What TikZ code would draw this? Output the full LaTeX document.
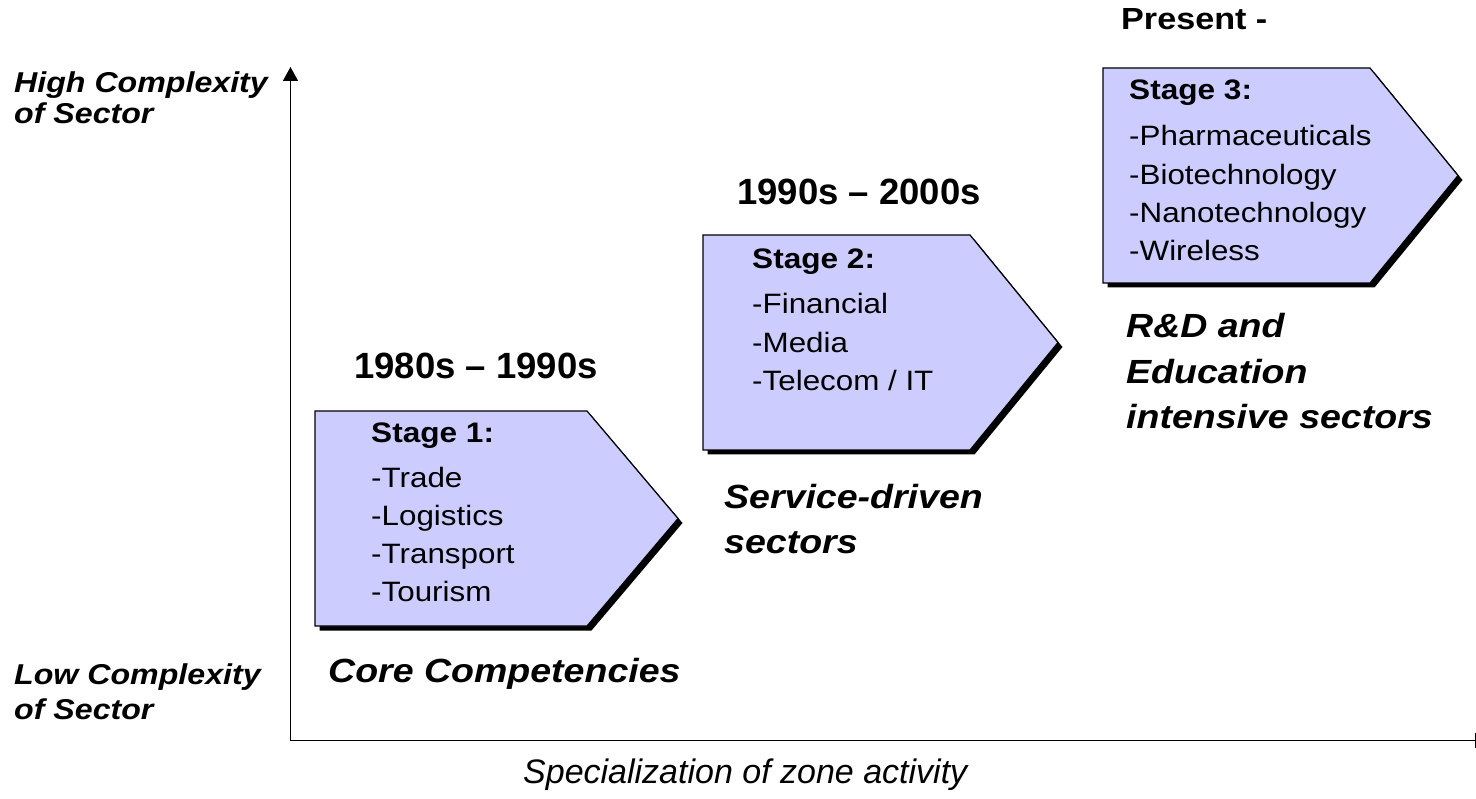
\documentclass[tikz,border=0pt]{standalone}
\usepackage{fontspec}
\setmainfont{Liberation Sans}
\newfontfamily\wf{Liberation Sans}[FakeStretch=1.12]
\usetikzlibrary{arrows.meta}
\definecolor{stagefill}{RGB}{204,204,255}
\tikzset{
  axisline/.style={line width=1.6pt, draw=black},
  stageshape/.style={fill=stagefill, draw=black, line width=1.2pt, line join=miter},
  stageshadow/.style={fill=black},
  itemtxt/.style={inner sep=0pt, anchor=base west, font=\wf\fontsize{28}{33}\selectfont},
  stagetxt/.style={inner sep=0pt, anchor=base west, font=\wf\bfseries\fontsize{28.2}{33}\selectfont},
  period/.style={inner sep=0pt, anchor=base west, font=\bfseries\fontsize{36.5}{44}\selectfont},
  periodw/.style={inner sep=0pt, anchor=base west, font=\wf\bfseries\fontsize{30.5}{36}\selectfont},
  sectorlbl/.style={inner sep=0pt, anchor=base west, font=\wf\bfseries\itshape\fontsize{33.5}{39}\selectfont},
  axislbl/.style={inner sep=0pt, anchor=base west, font=\wf\bfseries\itshape\fontsize{28.7}{33}\selectfont},
  xlbl/.style={inner sep=0pt, anchor=base west, font=\itshape\fontsize{34}{40}\selectfont},
}
% pentagon arrow with drop shadow: name, left, top, body right, tip x, bottom
\newcommand\stagepoly[6]{%
  \fill[stageshadow] ({#2+4.5},{#3+4.5}) -- ({#4+4.5},{#3+4.5}) -- ({#5+4.5},{(#3+#6)/2+4.5})
     -- ({#4+4.5},{#6+4.5}) -- ({#2+4.5},{#6+4.5}) -- cycle;
  \coordinate (#1-nw) at (#2,#3);
  \coordinate (#1-ne) at (#4,#3);
  \coordinate (#1-tip) at (#5,{(#3+#6)/2});
  \coordinate (#1-se) at (#4,#6);
  \coordinate (#1-sw) at (#2,#6);
  \draw[stageshape] (#1-nw) -- (#1-ne) -- (#1-tip) -- (#1-se) -- (#1-sw) -- cycle;
}
\begin{document}
\begin{tikzpicture}[x=1pt,y=-1pt]
\useasboundingbox (0,0) rectangle (1476,799);
\clip (0,0) rectangle (1476,799);

% axes
\coordinate (origin) at (290.5,740.5);
\coordinate (ytop) at (290.5,67);
\coordinate (xend) at (1489,740.5);
\draw[axisline, -{Triangle[width=15pt,length=14pt]}] (origin) -- (ytop);
\draw[axisline, -{Triangle[width=15pt,length=14pt]}] (origin) -- (xend);

\node[axislbl] (hi1) at (14,93) {High Complexity};
\node[axislbl] (hi2) at (14,123.5) {of Sector};
\node[axislbl] (lo1) at (14,684) {Low Complexity};
\node[axislbl] (lo2) at (14,719) {of Sector};
\node[xlbl] (xlab) at (523,783) {Specialization of zone activity};

% stage 1
\stagepoly{st1}{315}{411}{587}{678}{626}
\node[stagetxt] (st1-head) at (371,443) {Stage 1:};
\foreach \t [count=\i] in {-Trade,-Logistics,-Transport,-Tourism}
  \node[itemtxt] (st1-\i) at (371,{487+38.3*(\i-1)}) {\t};
\node[period] (p1) at (354,379) {1980s \textendash{} 1990s};
\node[sectorlbl] (c1) at (328,682) {Core Competencies};

% stage 2
\stagepoly{st2}{703}{235}{970}{1058}{450}
\node[stagetxt] (st2-head) at (752,269) {Stage 2:};
\foreach \t [count=\i] in {-Financial,-Media,-Telecom / IT}
  \node[itemtxt] (st2-\i) at (752,{314+38.3*(\i-1)}) {\t};
\node[period] (p2) at (737,205) {1990s \textendash{} 2000s};
\node[sectorlbl] (c2a) at (724,508) {Service-driven};
\node[sectorlbl] (c2b) at (724,553) {sectors};

% stage 3
\stagepoly{st3}{1103}{68}{1370}{1458}{283}
\node[stagetxt] (st3-head) at (1129,100) {Stage 3:};
\foreach \t [count=\i] in {-Pharmaceuticals,-Biotechnology,-Nanotechnology,-Wireless}
  \node[itemtxt] (st3-\i) at (1129,{146+38.3*(\i-1)}) {\t};
\node[periodw] (p3) at (1121,30) {Present -};
\node[sectorlbl] (c3a) at (1126,338) {R\&D and};
\node[sectorlbl] (c3b) at (1126,383.5) {Education};
\node[sectorlbl] (c3c) at (1126,429) {intensive sectors};
\end{tikzpicture}
\end{document}
